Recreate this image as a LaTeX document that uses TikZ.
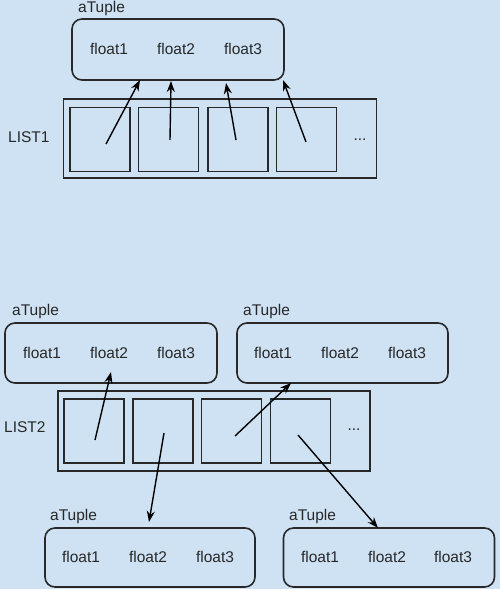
\documentclass[tikz,border=0pt]{standalone}
\usepackage{fontspec}
\setmainfont{Liberation Sans}
\usetikzlibrary{arrows.meta}
\definecolor{bgblue}{RGB}{207,226,243}
\definecolor{ink}{RGB}{40,40,40}
\tikzset{
  tuplebox/.style={draw=ink, line width=1.6pt, rounded corners=10pt, minimum width=211pt, minimum height=60pt, inner sep=0pt},
  listbox/.style={draw=ink, line width=1.6pt, minimum width=312pt, minimum height=79pt, inner sep=0pt},
  cellbox/.style={draw=ink, line width=1.6pt, minimum width=60pt, minimum height=64pt, inner sep=0pt},
  txt/.style={font=\fontsize{15.5}{18}\selectfont, text=ink, inner sep=0pt},
  lbl/.style={txt, anchor=west},
  ptr/.style={draw=black, line width=1.4pt, -{Stealth[length=11pt,width=8pt]}},
}
\begin{document}
\begin{tikzpicture}[x=1pt,y=-1pt]
\fill[bgblue] (0,0) rectangle (500,589);
\useasboundingbox (0,0) rectangle (500,589);

% ---------- top: LIST1 ----------
\node[lbl] (lt) at (78,8) {aTuple};
\node[tuplebox, minimum width=212pt, minimum height=61pt] (t0) at (178,49.5) {};
\node[txt] (t0a) at (109,49) {float1};
\node[txt] (t0b) at (176,49) {float2};
\node[txt] (t0c) at (243,49) {float3};

\node[lbl] (l1) at (8,137) {LIST1};
\node[listbox, minimum width=313pt] (L1) at (220,138.5) {};
\node[cellbox] (c11) at (100,139.5) {};
\node[cellbox] (c12) at (168.5,139.5) {};
\node[cellbox] (c13) at (238,139.5) {};
\node[cellbox] (c14) at (306.5,139.5) {};
\node[txt] (d1) at (360,140) {...};

\coordinate (s11) at (106,144);
\coordinate (s12) at (170,140);
\coordinate (s13) at (236,140);
\coordinate (s14) at (306,142);
\coordinate (e11) at (140,80);
\coordinate (e12) at (171,81);
\coordinate (e13) at (226,83);
\coordinate (e14) at (283,80);
\draw[ptr] (s11) -- (e11);
\draw[ptr] (s12) -- (e12);
\draw[ptr] (s13) -- (e13);
\draw[ptr] (s14) -- (e14);

% ---------- bottom: LIST2 ----------
\node[lbl] (la) at (12,311) {aTuple};
\node[tuplebox, minimum width=212pt] (ta) at (111,353) {};
\node[txt] (taa) at (42,353) {float1};
\node[txt] (tab) at (109,353) {float2};
\node[txt] (tac) at (176,353) {float3};

\node[lbl] (lb) at (243,311) {aTuple};
\node[tuplebox] (tb) at (342.5,353) {};
\node[txt] (tba) at (273,353) {float1};
\node[txt] (tbb) at (340,353) {float2};
\node[txt] (tbc) at (407,353) {float3};

\node[lbl] (l2) at (4,427) {LIST2};
\node[listbox, minimum height=80pt] (L2) at (214,431) {};
\node[cellbox] (c21) at (94,431) {};
\node[cellbox] (c22) at (163,431) {};
\node[cellbox] (c23) at (231.5,431) {};
\node[cellbox] (c24) at (300.5,431) {};
\node[txt] (d2) at (354,430) {...};

\node[lbl] (lc) at (50,516) {aTuple};
\node[tuplebox, minimum width=210pt, minimum height=59pt] (tc) at (150,557.5) {};
\node[txt] (tca) at (81,557) {float1};
\node[txt] (tcb) at (148,557) {float2};
\node[txt] (tcc) at (215,557) {float3};

\node[lbl] (ld) at (289,516) {aTuple};
\node[tuplebox, minimum height=59pt] (td) at (389,557.5) {};
\node[txt] (tda) at (320,557) {float1};
\node[txt] (tdb) at (387,557) {float2};
\node[txt] (tdc) at (453,557) {float3};

\coordinate (s21) at (95,440);
\coordinate (s22) at (164,433);
\coordinate (s23) at (235,436);
\coordinate (s24) at (298,435);
\coordinate (e21) at (111,372);
\coordinate (e22) at (149,522);
\coordinate (e23) at (291,383);
\coordinate (e24) at (378,528);
\draw[ptr] (s21) -- (e21);
\draw[ptr] (s22) -- (e22);
\draw[ptr] (s23) -- (e23);
\draw[ptr] (s24) -- (e24);
\end{tikzpicture}
\end{document}
